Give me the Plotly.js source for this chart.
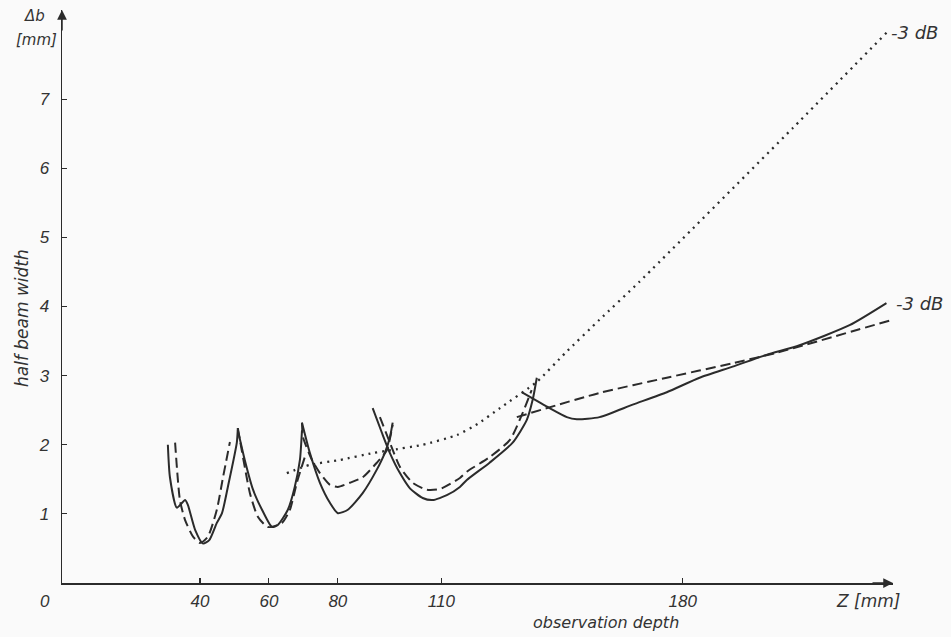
<!DOCTYPE html>
<html>
<head>
<meta charset="utf-8">
<script src="https://cdn.plot.ly/plotly-3.0.1.min.js"></script>
<style>
html,body{margin:0;padding:0;background:#fafafa;}
#chart{width:951px;height:637px;}
</style>
</head>
<body>
<div id="chart"></div>
<script>
// observation depth Z [mm] and half beam width Δb [mm]; null separates drawn segments
const solidZ = [30.7,31.3,33.3,35.7,36.5,38.6,40.9,42.7,44.9,46.4,48.1,50.7,51.0, null,
  51.0,53.0,55.4,58.0,60.9,62.6,65.5,67.5,69.0,69.6, null,
  69.6,71.9,74.8,77.7,80.0,82.9,87.2,91.3,93.6,95.1,95.9, null,
  90.1,92.8,95.1,98.0,100.9,104.6,107.5,111.6,115.4,117.4,124.0,130.7,134.8,136.5,137.7, null,
  133.3,141.4,146.4,149.3,155.9,165.5,175.4,184.9,194.5,204.3,213.9,228.4,239.1];
const solidB = [2.00,1.53,1.09,1.20,1.13,0.77,0.57,0.62,0.87,1.01,1.39,2.03,2.24, null,
  2.21,1.78,1.35,1.06,0.81,0.84,1.06,1.39,1.78,2.21, null,
  2.32,1.88,1.45,1.16,1.01,1.06,1.30,1.64,1.88,2.11,2.32, null,
  2.53,2.17,1.88,1.59,1.37,1.23,1.20,1.27,1.39,1.49,1.74,2.03,2.36,2.65,2.97, null,
  2.76,2.53,2.40,2.37,2.40,2.58,2.76,2.97,3.13,3.30,3.44,3.73,4.05];

const dashZ = [32.8,34.2,35.7,38.0,40.0,42.3,44.9,46.7,48.7, null,
  51.0,51.6,54.5,56.8,59.7,63.8,66.1,68.1,70.4, null,
  69.6,69.9,72.5,74.8,77.7,80.0,83.5,87.2,91.3,94.2,95.9, null,
  92.2,95.1,98.0,101.7,105.8,109.6,115.4,117.4,124.0,129.9,133.6,136.2, null,
  131.9,155.9,175.4,194.5,207.2,240.9];
const dashB = [2.03,1.20,0.91,0.67,0.58,0.67,1.06,1.53,2.04, null,
  2.24,2.07,1.30,0.96,0.81,0.87,1.06,1.45,1.82, null,
  2.32,2.11,1.78,1.59,1.42,1.39,1.45,1.53,1.74,1.92,2.29, null,
  2.40,2.03,1.68,1.45,1.35,1.36,1.52,1.61,1.82,2.07,2.46,2.79, null,
  2.40,2.75,2.97,3.18,3.33,3.81];

const dotZ = [65.2,71.9,80.6,90.1,95.1,104.6,114.5,120.5,127.0,137.7,146.0,155.9,167.5,211.9,239.1];
const dotB = [1.59,1.71,1.78,1.88,1.92,2.00,2.14,2.30,2.53,2.91,3.33,3.81,4.36,6.58,7.96];

const xTicks = [40,60,80,110,180];
const yTicks = [1,2,3,4,5,6,7];
const curveLabel = "-3 dB";

const W = 951, H = 637;
const M = {l:62, r:58, t:10, b:54};
const px = x => (x - M.l) / (W - M.l - M.r);
const py = y => (H - M.b - y) / (H - M.t - M.b);

const ink = '#2b2b2b';
const TICKFONT = {family:'Liberation Sans, Arial, sans-serif', size:17, color:'#333', style:'italic'};
const TEXT = (s) => ({family:'DejaVu Sans, sans-serif', size:s, color:'#333', style:'italic'});

const traces = [
  {x: solidZ, y: solidB, mode:'lines', connectgaps:false, line:{color:ink, width:2, shape:'spline', smoothing:0.6}},
  {x: dashZ, y: dashB, mode:'lines', connectgaps:false, line:{color:ink, width:2, dash:'10px,5px', shape:'spline', smoothing:0.6}},
  {x: dotZ, y: dotB, mode:'lines', line:{color:ink, width:2.3, dash:'2px,5px', shape:'spline', smoothing:0.5}}
];

const ann = (x, y, text, font, extra) => Object.assign({xref:'paper', yref:'paper', x:px(x), y:py(y), text:text,
  showarrow:false, font:font, xanchor:'center', yanchor:'middle', borderpad:0}, extra||{});

const layout = {
  width: W, height: H,
  margin: M,
  paper_bgcolor:'#fafafa', plot_bgcolor:'#fafafa',
  showlegend:false,
  xaxis:{range:[0,241], tickvals:xTicks, ticktext:xTicks.map(String), ticks:'inside', ticklen:5, tickwidth:1.2, tickcolor:ink,
    showline:true, linecolor:ink, linewidth:1.5, showgrid:false, zeroline:false, tickfont:TICKFONT, ticklabelstandoff:2, fixedrange:true},
  yaxis:{range:[0,8.29], tickvals:yTicks, ticktext:yTicks.map(String), ticks:'inside', ticklen:5, tickwidth:1.2, tickcolor:ink,
    showline:true, linecolor:ink, linewidth:1.5, showgrid:false, zeroline:false, tickfont:TICKFONT, ticklabelstandoff:8, fixedrange:true},
  annotations:[
    {xref:'x', yref:'y', x:0, y:8.29, ax:0, ay:22, showarrow:true, arrowhead:2, arrowsize:1.3, arrowwidth:1.5, arrowcolor:ink, text:''},
    {xref:'x', yref:'y', x:241, y:0, ax:-22, ay:0, showarrow:true, arrowhead:2, arrowsize:1.3, arrowwidth:1.5, arrowcolor:ink, text:''},
    ann(45, 601, '0', TICKFONT),
    ann(34, 16, 'Δb', TEXT(15)),
    ann(36, 40, '[mm]', TEXT(15)),
    ann(868, 601, 'Z [mm]', TEXT(17)),
    ann(606, 622, 'observation depth', TEXT(16)),
    ann(22, 318, 'half beam width', TEXT(17), {textangle:-90}),
    ann(890, 33, curveLabel, TEXT(18), {xanchor:'left'}),
    ann(895, 303, curveLabel, TEXT(18), {xanchor:'left'})
  ]
};

Plotly.newPlot('chart', traces, layout, {displayModeBar:false, staticPlot:true});
</script>
</body>
</html>
